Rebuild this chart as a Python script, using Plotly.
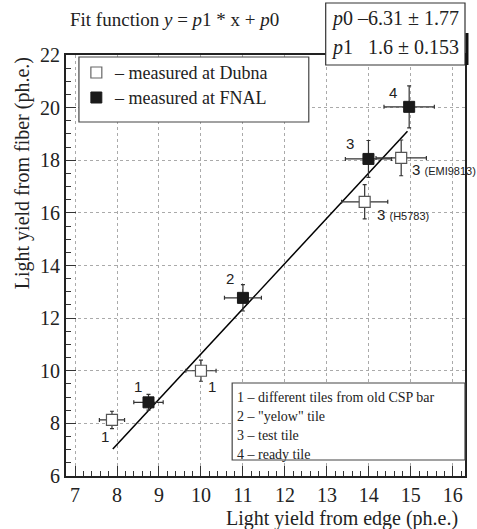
import plotly.graph_objects as go

# ---- data ----
dubna_x = [7.88, 10.0, 13.9, 14.77]
dubna_y = [8.13, 10.0, 16.42, 18.09]
dubna_ex = [0.3, 0.36, 0.55, 0.6]
dubna_ey = [0.33, 0.4, 0.65, 0.68]
dubna_labels = ["1", "1", "3 <span style='font-size:11px'>(H5783)</span>", "3 <span style='font-size:11px'>(EMI9813)</span>"]

fnal_x = [8.75, 11.0, 13.99, 14.96]
fnal_y = [8.8, 12.77, 18.05, 20.03]
fnal_ex = [0.35, 0.44, 0.55, 0.6]
fnal_ey = [0.3, 0.5, 0.7, 0.8]
fnal_labels = ["1", "2", "3", "4"]

fit_x = [7.9, 14.92]
fit_y = [7.03, 19.1]

x_ticks = [7, 8, 9, 10, 11, 12, 13, 14, 15, 16]
y_ticks = [6, 8, 10, 12, 14, 16, 18, 20, 22]

legend_lines = ["1 \u2013 different tiles from old CSP bar", "2 \u2013 \"yelow\" tile",
                "3 \u2013 test tile", "4 \u2013 ready tile"]

SERIF = "Liberation Serif, Times New Roman, serif"
SANS = "Liberation Sans, Arial, sans-serif"

fig = go.Figure()

fig.add_trace(go.Scatter(x=fit_x, y=fit_y, mode="lines",
                         line=dict(color="black", width=1.5), showlegend=False))

err_style = dict(type="data", color="#333", thickness=1.2, width=2)
fig.add_trace(go.Scatter(
    x=dubna_x, y=dubna_y, mode="markers",
    error_x=dict(array=dubna_ex, **err_style), error_y=dict(array=dubna_ey, **err_style),
    marker=dict(symbol="square", size=11, color="white", line=dict(color="#555", width=1.2)),
    showlegend=False))
fig.add_trace(go.Scatter(
    x=fnal_x, y=fnal_y, mode="markers",
    error_x=dict(array=fnal_ex, **err_style), error_y=dict(array=fnal_ey, **err_style),
    marker=dict(symbol="square", size=11, color="#1a1a1a", line=dict(color="#1a1a1a", width=1)),
    showlegend=False))

ann = []
# point labels (offsets in pixels)
dub_off = [(-7, -17, "center"), (11, -16, "center"), (10, -13, "left"), (9, -12, "left")]
for x, y, t, (dx, dy, xa) in zip(dubna_x, dubna_y, dubna_labels, dub_off):
    ann.append(dict(x=x, y=y, xref="x", yref="y", text=t, showarrow=False, xshift=dx, yshift=dy,
                    xanchor=xa, font=dict(family=SANS, size=15, color="#222")))
fn_off = [(-10, 16), (-13, 19), (-18, 15), (-16, 14)]
for x, y, t, (dx, dy) in zip(fnal_x, fnal_y, fnal_labels, fn_off):
    ann.append(dict(x=x, y=y, xref="x", yref="y", text=t, showarrow=False, xshift=dx, yshift=dy,
                    font=dict(family=SANS, size=15, color="#222")))

# pixel -> paper helpers
L, R, T, B = 66, 467, 55, 476
def px(xp):
    return (xp - L) / (R - L)
def py(yp):
    return (B - yp) / (B - T)

shapes = []
# legend box 1
shapes.append(dict(type="rect", xref="paper", yref="paper", x0=px(79), x1=px(310), y0=py(122), y1=py(57),
                   line=dict(color="#444", width=1.2), fillcolor="white", layer="above"))
shapes.append(dict(type="rect", xref="paper", yref="paper", x0=px(91), x1=px(102), y0=py(78), y1=py(67),
                   line=dict(color="#666", width=1.2), fillcolor="white", layer="above"))
shapes.append(dict(type="rect", xref="paper", yref="paper", x0=px(91), x1=px(102), y0=py(103), y1=py(92),
                   line=dict(color="#1a1a1a", width=1), fillcolor="#1a1a1a", layer="above"))
ann.append(dict(x=px(112), y=py(73), xref="paper", yref="paper", xanchor="left", yanchor="middle",
                text="\u2013 measured at Dubna", showarrow=False, font=dict(family=SERIF, size=18, color="#222")))
ann.append(dict(x=px(112), y=py(98), xref="paper", yref="paper", xanchor="left", yanchor="middle",
                text="\u2013 measured at FNAL", showarrow=False, font=dict(family=SERIF, size=18, color="#222")))

# legend box 2
shapes.append(dict(type="rect", xref="paper", yref="paper", x0=px(233), x1=px(467), y0=py(460), y1=py(383),
                   line=dict(color="#444", width=1.2), fillcolor="white", layer="above"))
for i, t in enumerate(legend_lines):
    ann.append(dict(x=px(236), y=py(397 + 19 * i), xref="paper", yref="paper", xanchor="left", yanchor="middle",
                    text=t, showarrow=False, font=dict(family=SERIF, size=14, color="#222")))

# stats box
shapes.append(dict(type="rect", xref="paper", yref="paper", x0=px(327), x1=px(467), y0=py(65), y1=py(3),
                   line=dict(color="#333", width=1.2), fillcolor="white", layer="above"))
shapes.append(dict(type="line", xref="paper", yref="paper", x0=px(469), x1=px(469), y0=py(65), y1=py(33),
                   line=dict(color="#111", width=3), layer="above"))
ann.append(dict(x=px(330), y=py(19), xref="paper", yref="paper", xanchor="left", yanchor="middle",
                text="<i>p</i>0 \u20136.31 \u00b1 1.77", showarrow=False, font=dict(family=SERIF, size=20, color="#222")))
ann.append(dict(x=px(330), y=py(48), xref="paper", yref="paper", xanchor="left", yanchor="middle",
                text="<i>p</i>1 &nbsp; 1.6 \u00b1 0.153", showarrow=False, font=dict(family=SERIF, size=20, color="#222")))

# title
ann.append(dict(x=px(175), y=py(20), xref="paper", yref="paper", xanchor="center", yanchor="middle",
                text="Fit function <i>y</i> = <i>p</i>1 * x + <i>p</i>0", showarrow=False,
                font=dict(family=SERIF, size=19, color="#222")))
# axis titles
ann.append(dict(x=px(462), y=py(518), xref="paper", yref="paper", xanchor="right", yanchor="middle",
                text="Light yield from edge (ph.e.)", showarrow=False, font=dict(family=SERIF, size=20, color="#222")))
ann.append(dict(x=px(22), y=py(55), xref="paper", yref="paper", xanchor="center", yanchor="top",
                text="Light yield from fiber (ph.e.)", textangle=-90, showarrow=False,
                font=dict(family=SERIF, size=20, color="#222")))

axis_common = dict(showline=True, linecolor="#222", linewidth=2, mirror=True,
                   ticks="inside", ticklen=10, tickcolor="#333", tickwidth=1,
                   showgrid=True, gridcolor="#aaa", griddash="dot", gridwidth=1,
                   zeroline=False, tickfont=dict(family=SERIF, size=20, color="#222"))

fig.update_layout(
    width=477, height=529,
    margin=dict(l=L, r=477 - R, t=T, b=529 - B),
    paper_bgcolor="white", plot_bgcolor="white",
    font=dict(family=SERIF, color="#222"),
    xaxis=dict(range=[6.785, 16.29], tickvals=x_ticks, ticktext=[str(v) for v in x_ticks],
               minor=dict(dtick=0.2, tick0=7, ticks="inside", ticklen=5, tickcolor="#333", showgrid=False),
               **axis_common),
    yaxis=dict(range=[6, 22], tickvals=y_ticks, ticktext=[str(v) for v in y_ticks],
               minor=dict(dtick=0.5, tick0=6, ticks="inside", ticklen=5, tickcolor="#333", showgrid=False),
               **axis_common),
    shapes=shapes, annotations=ann, showlegend=False, hovermode=False,
)

fig.write_html("out.html", config={"displayModeBar": False, "staticPlot": True},
               post_script="document.body.style.margin='0';document.body.style.overflow='hidden';")
